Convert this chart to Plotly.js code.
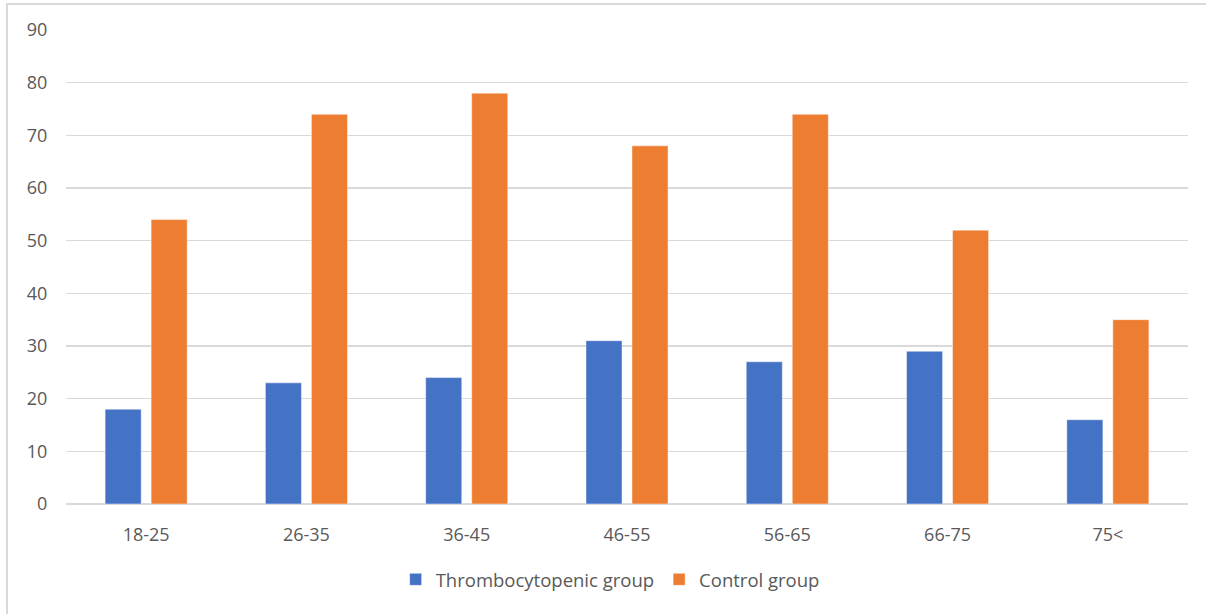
<!DOCTYPE html>
<html>
<head>
<meta charset="utf-8">
<script src="https://cdn.plot.ly/plotly-3.0.1.min.js"></script>
<style>
  html, body { margin: 0; padding: 0; overflow: hidden; background: #fff; }
  #wrap { position: relative; width: 1206px; height: 614px; overflow: hidden; }
  #chart { width: 1206px; height: 614px; }
  #frame {
    position: absolute; left: 6px; top: 3px; width: 1300px; height: 700px;
    border: 2px solid #d9d9d9; pointer-events: none; box-sizing: border-box;
  }
</style>
</head>
<body>
<div id="wrap">
  <div id="chart"></div>
  <div id="frame"></div>
</div>
<script>
// Age groups and patient counts per group
const ageGroups = ['18-25', '26-35', '36-45', '46-55', '56-65', '66-75', '75<'];
const thrombocytopenic = [18, 23, 24, 31, 27, 29, 16];
const control = [54, 74, 78, 68, 74, 52, 35];
const yTicks = [0, 10, 20, 30, 40, 50, 60, 70, 80, 90];

const barWidth = 0.225;
const font = 'Open Sans, "Noto Sans", sans-serif';

const traces = [
  {
    type: 'bar', name: 'Thrombocytopenic group',
    x: ageGroups, y: thrombocytopenic,
    width: barWidth, offset: -0.256,
    marker: { color: '#4472C4', line: { color: 'rgba(255,255,255,0.45)', width: 1 } },
    hoverinfo: 'x+y'
  },
  {
    type: 'bar', name: 'Control group',
    x: ageGroups, y: control,
    width: barWidth, offset: 0.031,
    marker: { color: '#ED7D31', line: { color: 'rgba(255,255,255,0.45)', width: 1 } },
    hoverinfo: 'x+y'
  }
];

const layout = {
  width: 1206, height: 614,
  margin: { l: 66, r: 18, t: 30, b: 110 },
  paper_bgcolor: '#ffffff', plot_bgcolor: '#ffffff',
  barmode: 'group',
  showlegend: true,
  legend: {
    orientation: 'h', x: 0.485, xanchor: 'center', y: -0.16, yanchor: 'middle',
    font: { family: font, size: 18.5, color: '#595959' },
    itemwidth: 30, tracegroupgap: 0
  },
  xaxis: {
    type: 'category',
    showgrid: false, zeroline: false, showline: false,
    ticks: 'outside', ticklen: 14, tickcolor: 'rgba(0,0,0,0)',
    tickfont: { family: font, size: 18, color: '#595959' },
    fixedrange: true
  },
  yaxis: {
    range: [0, 90], tickvals: yTicks, ticktext: yTicks.map(String),
    showgrid: true, gridcolor: '#d9d9d9', gridwidth: 1.5,
    zeroline: true, zerolinecolor: '#d9d9d9', zerolinewidth: 1.5,
    showline: false,
    ticks: 'outside', ticklen: 14, tickcolor: 'rgba(0,0,0,0)',
    tickfont: { family: font, size: 18, color: '#595959' },
    fixedrange: true
  }
};

Plotly.newPlot('chart', traces, layout, { displayModeBar: false, staticPlot: true });
</script>
</body>
</html>
